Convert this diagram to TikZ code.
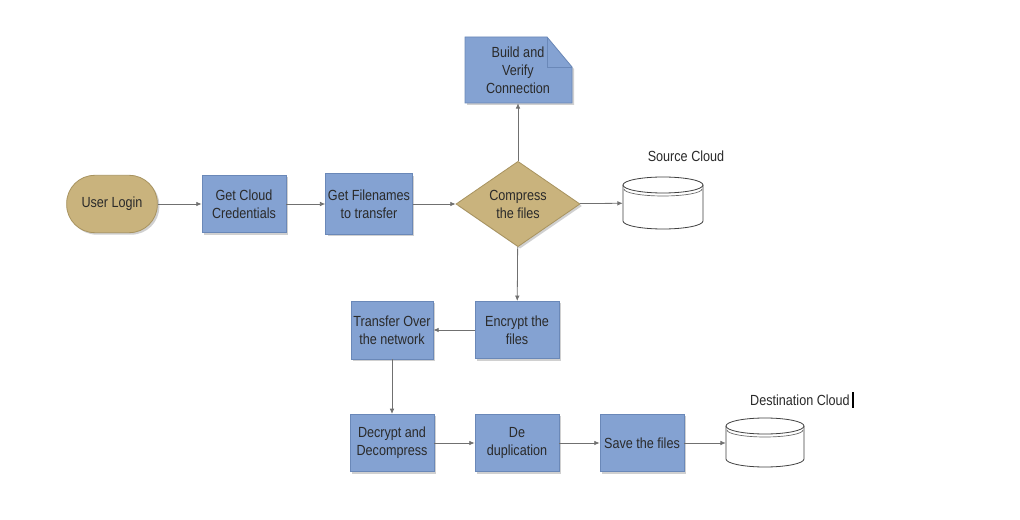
\documentclass[tikz,border=0pt]{standalone}
\usepackage{fontspec}
\setmainfont{Liberation Sans}[FakeStretch=0.86]
\usetikzlibrary{shapes.geometric,shadows,arrows.meta}
\definecolor{boxblue}{HTML}{84A2D2}
\definecolor{boxedge}{HTML}{6A88B8}
\definecolor{tan}{HTML}{C9B37D}
\definecolor{tanedge}{HTML}{A8935F}
\definecolor{txt}{HTML}{2A2A2A}
\definecolor{arr}{HTML}{707070}
\tikzset{
  stepbox/.style={rectangle, draw=boxedge, fill=boxblue, line width=0.6pt,
    minimum width=63pt, minimum height=43pt, inner sep=1pt, align=center,
    text=txt, font=\fontsize{11}{13.5}\selectfont,
    drop shadow={shadow xshift=1.5pt, shadow yshift=-1.5pt, fill=black!30, opacity=0.6}},
  startbox/.style={stepbox, fill=tan, draw=tanedge, rounded corners=21pt,
    minimum width=68pt},
  decbox/.style={diamond, draw=tanedge, fill=tan, line width=0.6pt, aspect=1.45,
    minimum width=93pt, minimum height=64pt, inner sep=0pt, align=center,
    text=txt, font=\fontsize{11}{13.5}\selectfont,
    drop shadow={shadow xshift=1.5pt, shadow yshift=-1.5pt, fill=black!30, opacity=0.6}},
  ghost/.style={rectangle, draw=none, inner sep=0pt, align=center, text=txt,
    font=\fontsize{11}{13.5}\selectfont},
  conn/.style={draw=arr, line width=0.6pt, -{Latex[length=4pt,width=3.5pt]}},
  drum/.style={draw=black!75, fill=white, line width=0.6pt},
  lbl/.style={text=txt, font=\fontsize{11}{13.5}\selectfont, inner sep=0pt}
}
\begin{document}
\begin{tikzpicture}[x=0.75pt, y=-0.75pt]
\useasboundingbox[fill=white] (0,0) rectangle (1020,520);

% nodes
\node[startbox] (login) at (112,204) {User Login};
\node[stepbox] (cred) at (244,204) {Get Cloud\\Credentials};
\node[stepbox, minimum width=65pt, minimum height=45.5pt] (fname) at (369,204) {Get Filenames\\to transfer};
\node[decbox] (comp) at (518,204) {Compress\\the files};

% build and verify (folded-corner document)
\fill[black!30, opacity=0.6] (467,39) -- (549,39) -- (574,69) -- (574,105) -- (467,105) -- cycle;
\filldraw[draw=boxedge, fill=boxblue, line width=0.6pt] (465,37) -- (547,37) -- (572,67) -- (572,103) -- (465,103) -- cycle;
\draw[draw=boxedge, line width=0.6pt] (547,37) -- (547,67) -- (572,67);
\node[ghost, minimum width=79.5pt, minimum height=49.5pt] (build) at (518,70) {Build and\\Verify\\Connection};

% source cloud drum
\node[ghost, minimum width=60pt, minimum height=37.5pt] (src) at (663,203) {};
\filldraw[drum] (623,185) -- (623,221) arc[start angle=180, end angle=0, x radius=40, y radius=8] -- (703,185);
\filldraw[drum] (663,185) ellipse[x radius=40, y radius=8];
\draw[black!60, line width=0.5pt] (624,189) arc[start angle=180, end angle=0, x radius=39, y radius=7];
\node[lbl] (srclbl) at (686,156) {Source Cloud};

\node[stepbox] (enc) at (517,330) {Encrypt the\\files};
\node[stepbox, minimum width=61.5pt, minimum height=43.5pt] (trans) at (392,330) {Transfer Over\\the network};
\node[stepbox] (dec) at (392,443) {Decrypt and\\Decompress};
\node[stepbox] (dedup) at (517,443) {De\\duplication};
\node[stepbox] (save) at (642,443) {Save the files};

% destination drum
\node[ghost, minimum width=58.5pt, minimum height=37pt] (dst) at (765,443) {};
\filldraw[drum] (726,426) -- (726,459) arc[start angle=180, end angle=0, x radius=39, y radius=8] -- (804,426);
\filldraw[drum] (765,426) ellipse[x radius=39, y radius=8];
\draw[black!60, line width=0.5pt] (727,430) arc[start angle=180, end angle=0, x radius=38, y radius=7];
\node[lbl] (dstlbl) at (800,400) {Destination Cloud};
\coordinate (curtop) at (853,392);
\coordinate (curbot) at (853,408);
\draw[black, line width=1pt] (curtop) -- (curbot);

% connectors
\draw[conn] (login) -- (cred);
\draw[conn] (cred) -- (fname);
\draw[conn] (fname) -- (comp);
\draw[conn] (comp) -- (build);
\draw[conn] (comp) -- (src);
\draw[conn] (comp) -- (enc);
\draw[conn] (enc) -- (trans);
\draw[conn] (trans) -- (dec);
\draw[conn] (dec) -- (dedup);
\draw[conn] (dedup) -- (save);
\draw[conn] (save) -- (dst);
\end{tikzpicture}
\end{document}
